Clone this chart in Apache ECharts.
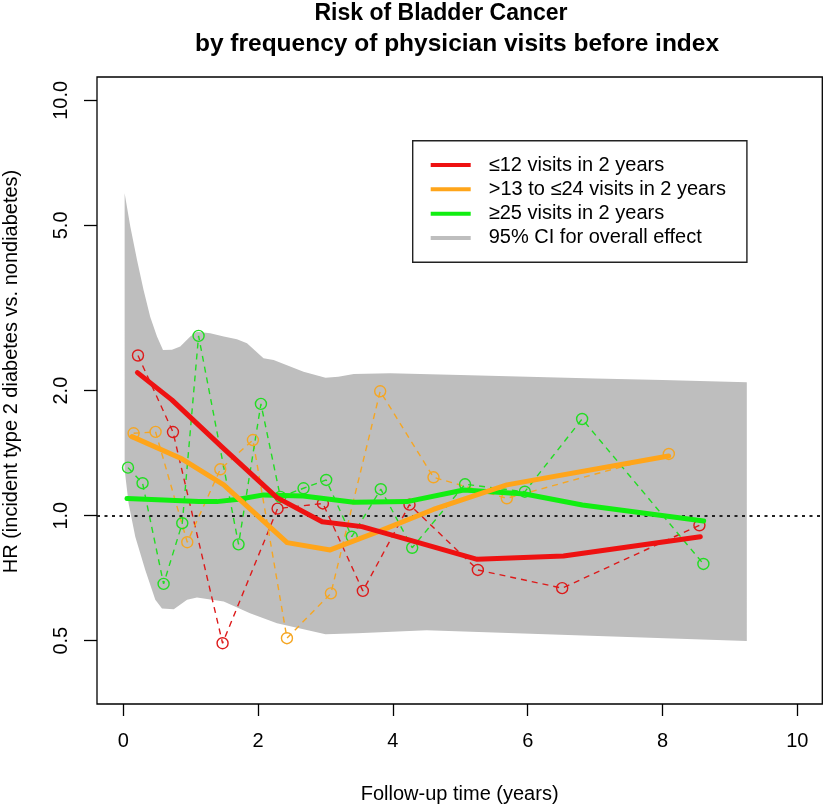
<!DOCTYPE html>
<html><head><meta charset="utf-8">
<script src="https://cdn.jsdelivr.net/npm/echarts@6/dist/echarts.min.js"></script>
<style>html,body{margin:0;padding:0;background:#fff}#c{width:825px;height:805px}</style>
</head><body><div id="c"></div>
<script>
// ---- data ----
const xTicks = [0, 2, 4, 6, 8, 10];
const yTicks = [0.5, 1, 2, 5, 10];

const names = ['≤12 visits in 2 years', '>13 to ≤24 visits in 2 years', '≥25 visits in 2 years', '95% CI for overall effect'];

// 95% CI band for overall effect
const bandUpX = [0.02, 0.104, 0.203, 0.30, 0.40, 0.50, 0.589, 0.722, 0.845, 0.994, 1.093, 1.29, 1.49, 1.686, 1.835, 2.08, 2.23, 2.674, 3.0, 3.19, 3.42, 3.96, 5.0, 6.0, 7.0, 8.0, 9.25];
const bandUp  = [5.97, 4.97, 4.13, 3.50, 3.01, 2.70, 2.506, 2.51, 2.553, 2.70, 2.773, 2.75, 2.70, 2.66, 2.60, 2.393, 2.37, 2.222, 2.149, 2.16, 2.194, 2.203, 2.18, 2.16, 2.14, 2.12, 2.095];
const bandLoX = [0.02, 0.079, 0.178, 0.326, 0.475, 0.574, 0.749, 0.946, 1.093, 1.49, 1.88, 2.28, 2.674, 3.0, 3.47, 4.5, 9.25];
const bandLo  = [1.29, 1.07, 0.89, 0.74, 0.627, 0.598, 0.595, 0.627, 0.635, 0.621, 0.582, 0.551, 0.533, 0.518, 0.521, 0.53, 0.499];

// <=12 visits
const redPtsX = [0.218, 0.737, 1.473, 2.289, 2.961, 3.554, 4.246, 5.26, 6.511, 8.547];
const redPtsY = [2.43, 1.59, 0.493, 1.04, 1.07, 0.659, 1.063, 0.740, 0.669, 0.948];
const redFitX = [0.21, 0.72, 1.47, 2.28, 2.95, 3.54, 4.25, 5.25, 6.53, 8.56];
const redFitY = [2.21, 1.90, 1.46, 1.105, 0.967, 0.941, 0.873, 0.785, 0.80, 0.89];

// >13 to <=24 visits
const orgPtsX = [0.153, 0.479, 0.949, 1.439, 1.923, 2.428, 3.08, 3.811, 4.602, 5.69, 8.093];
const orgPtsY = [1.579, 1.591, 0.863, 1.293, 1.521, 0.507, 0.650, 1.993, 1.237, 1.101, 1.408];
const orgFitX = [0.13, 0.85, 1.49, 2.43, 3.07, 3.81, 4.60, 5.69, 8.09];
const orgFitY = [1.55, 1.375, 1.186, 0.861, 0.827, 0.919, 1.035, 1.186, 1.392];

// >=25 visits
const grnPtsX = [0.07, 0.286, 0.598, 0.875, 1.117, 1.71, 2.042, 2.33, 2.674, 3.01, 3.39, 3.82, 4.286, 5.07, 5.957, 6.807, 8.606];
const grnPtsY = [1.305, 1.197, 0.685, 0.959, 2.709, 0.853, 1.858, 1.11, 1.164, 1.219, 0.890, 1.158, 0.837, 1.19, 1.142, 1.709, 0.765];
const grnFitX = [0.055, 0.6, 1.12, 1.39, 1.71, 2.08, 2.67, 3.42, 4.21, 5.05, 5.96, 6.81, 8.61];
const grnFitY = [1.10, 1.09, 1.082, 1.081, 1.095, 1.122, 1.115, 1.077, 1.081, 1.153, 1.128, 1.061, 0.971];

const refLine = 1;

// ---- chart ----
const FONT = '"Liberation Sans", Arial, sans-serif';
const zip = (a, b) => a.map((v, i) => [v, b[i]]);

function ptsSeries(name, xs, ys, color) {
  return {
    type: 'line', name: name, data: zip(xs, ys), color: color,
    symbol: 'circle', symbolSize: 11, showSymbol: true,
    itemStyle: { color: 'transparent', borderColor: color, borderWidth: 1.4 },
    lineStyle: { color: color, width: 1.4, type: [6, 5] },
    z: 3, silent: true
  };
}
function fitSeries(name, xs, ys, color, z) {
  return {
    type: 'line', name: name, data: zip(xs, ys), color: color,
    symbol: 'none', showSymbol: false,
    lineStyle: { color: color, width: 5, cap: 'round', join: 'round' },
    z: z, silent: true
  };
}

const chart = echarts.init(document.getElementById('c'), null, { renderer: 'canvas' });
chart.setOption({
  animation: false,
  backgroundColor: '#fff',
  title: [
    { text: 'Risk of Bladder Cancer', left: 441, top: 2, textAlign: 'center', padding: 0,
      textStyle: { fontSize: 23, fontWeight: 'bold', color: '#000', fontFamily: FONT } },
    { text: 'by frequency of physician visits before index', left: 457, top: 32, textAlign: 'center', padding: 0,
      textStyle: { fontSize: 24.5, fontWeight: 'bold', color: '#000', fontFamily: FONT } }
  ],
  grid: { left: 97, right: 2.7, top: 77, bottom: 101, show: true, borderColor: '#000', borderWidth: 1.3,
          backgroundColor: 'transparent', containLabel: false, outerBoundsMode: 'none' },
  legend: {
    orient: 'vertical', left: 412.7, top: 140.7,
    data: [
      { name: names[0], icon: 'rect', itemStyle: { color: '#ee1111' } },
      { name: names[1], icon: 'rect', itemStyle: { color: '#ffa51a' } },
      { name: names[2], icon: 'rect', itemStyle: { color: '#11ee11' } },
      { name: names[3], icon: 'rect', itemStyle: { color: '#bebebe' } }
    ],
    itemWidth: 40, itemHeight: 4, itemGap: 0,
    padding: [12.2, 21, 12.2, 18],
    borderColor: '#222', borderWidth: 1.4, backgroundColor: '#fff',
    selectedMode: false,
    textStyle: { fontSize: 20, lineHeight: 24.3, color: '#000', fontFamily: FONT, padding: [0, 0, 0, 13] }
  },
  xAxis: {
    type: 'value', min: -0.39, max: 10.37,
    axisLine: { show: false, onZero: false }, splitLine: { show: false },
    axisTick: { show: true, length: 12, customValues: xTicks, lineStyle: { color: '#000', width: 1.3 } },
    axisLabel: { customValues: xTicks, fontSize: 20, color: '#000', margin: 27, fontFamily: FONT },
    name: 'Follow-up time (years)', nameLocation: 'middle', nameGap: 80,
    nameTextStyle: { fontSize: 20, color: '#000', fontFamily: FONT }
  },
  yAxis: {
    type: 'log', logBase: 10, min: 0.352, max: 11.38,
    axisLine: { show: false, onZero: false }, splitLine: { show: false },
    axisTick: { show: true, length: 13, customValues: yTicks, lineStyle: { color: '#000', width: 1.3 } },
    axisLabel: { customValues: yTicks, rotate: 90, fontSize: 20, color: '#000', margin: 26, fontFamily: FONT,
                 formatter: v => Number(v).toFixed(1) }
  },
  graphic: [{
    type: 'text', x: 11, y: 371.5, rotation: Math.PI / 2,
    style: { text: 'HR (incident type 2 diabetes vs. nondiabetes)', font: '20px ' + FONT, fill: '#000',
             align: 'center', verticalAlign: 'middle' }
  }],
  series: [
    {
      type: 'custom', name: names[3], data: [[1, 1]], silent: true, z: 1,
      itemStyle: { color: '#bebebe' },
      renderItem: function (params, api) {
        const pts = [];
        for (let i = 0; i < bandUpX.length; i++) pts.push(api.coord([bandUpX[i], bandUp[i]]));
        for (let i = bandLoX.length - 1; i >= 0; i--) pts.push(api.coord([bandLoX[i], bandLo[i]]));
        return { type: 'polygon', shape: { points: pts }, style: { fill: '#bebebe' } };
      },
      markLine: {
        silent: true, symbol: 'none', label: { show: false },
        lineStyle: { color: '#222', width: 2, type: [3, 4.5] },
        data: [{ yAxis: refLine }]
      }
    },
    ptsSeries('red pts', redPtsX, redPtsY, '#dd1a1a'),
    ptsSeries('orange pts', orgPtsX, orgPtsY, '#f5a623'),
    ptsSeries('green pts', grnPtsX, grnPtsY, '#22dd22'),
    fitSeries(names[2], grnFitX, grnFitY, '#11ee11', 5),
    fitSeries(names[1], orgFitX, orgFitY, '#ffa51a', 6),
    fitSeries(names[0], redFitX, redFitY, '#ee1111', 7)
  ]
});
</script>
</body></html>
